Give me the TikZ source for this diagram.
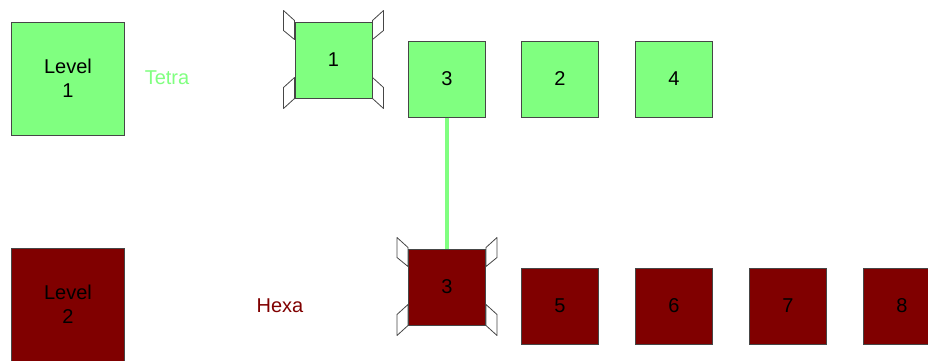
\documentclass[tikz,border=0pt]{standalone}
\usepackage{fontspec}
\setmainfont{Liberation Sans}
\usetikzlibrary{backgrounds}
\definecolor{lgreen}{RGB}{128,255,128}
\definecolor{dred}{RGB}{128,0,0}
\definecolor{edge}{RGB}{70,70,70}
\begin{document}
\begin{tikzpicture}[x=1pt,y=-1pt,
  every node/.style={font=\fontsize{20}{24}\selectfont},
  box/.style={draw=edge,line width=1pt,inner sep=0pt,minimum width=77pt,minimum height=76pt},
  gbox/.style={box,fill=lgreen},
  rbox/.style={box,fill=dred},
  lvl/.style={draw=edge,line width=1pt,inner sep=0pt,minimum width=113pt,minimum height=113pt,align=center},
  flap/.style={draw=edge,fill=white,line width=0.8pt,line join=round},
  link/.style={draw=lgreen,line width=4pt}]
\useasboundingbox (0,0) rectangle (928,360);
\clip (0,0) rectangle (928,360);
% legend
\node[lvl,fill=lgreen] (l1) at (68,78.5) {Level\\1};
\node[lvl,fill=dred] (l2) at (68,304.5) {Level\\2};
\node[text=lgreen] (tetra) at (167,78) {Tetra};
\node[text=dred] (hexa) at (280,306) {Hexa};
% top row
\node[gbox] (t1) at (333.5,60) {1};
\node[gbox] (t3) at (447,79) {3};
\node[gbox] (t2) at (560,79) {2};
\node[gbox] (t4) at (674,79) {4};
% bottom row
\node[rbox] (h3) at (447,287) {3};
\node[rbox] (h5) at (560,306) {5};
\node[rbox] (h6) at (674,306) {6};
\node[rbox] (h7) at (788,306) {7};
\node[rbox] (h8) at (902,306) {8};
% link
\draw[link] (t3.south) -- (h3.north);
% flaps behind boxes
\begin{scope}[on background layer]
\foreach \b in {t1,h3}{
  \draw[flap] (\b.north west) ++(0,-1) -- ++(-11,-10) -- ++(0,20) -- ++(11,9) -- cycle;
  \draw[flap] (\b.north east) ++(0,-1) -- ++(11,-10) -- ++(0,20) -- ++(-11,9) -- cycle;
  \draw[flap] (\b.south west) ++(0,-21) -- ++(-11,10) -- ++(0,21) -- ++(11,-10) -- cycle;
  \draw[flap] (\b.south east) ++(0,-21) -- ++(11,10) -- ++(0,21) -- ++(-11,-10) -- cycle;
}
\end{scope}
\end{tikzpicture}
\end{document}
